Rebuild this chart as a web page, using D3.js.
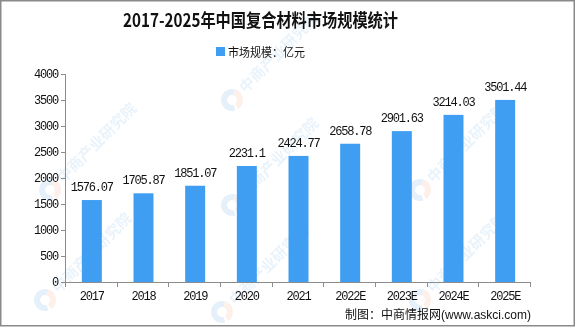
<!DOCTYPE html>
<html>
<head>
<meta charset="utf-8">
<script src="https://cdn.jsdelivr.net/npm/d3@7"></script>
<style>
  html, body { margin: 0; padding: 0; background: #fff; }
  svg { display: block; }
  text { font-family: "Liberation Mono", "DejaVu Sans Mono", monospace; }
  .num { letter-spacing: -1.2px; }
  .cjk { font-family: "Noto Sans CJK SC", sans-serif; }
</style>
</head>
<body>
<svg id="chart" width="576" height="329"></svg>
<script>
// Market size of China's composite materials, 100 million yuan
const years = ["2017", "2018", "2019", "2020", "2021", "2022E", "2023E", "2024E", "2025E"];
const marketSize = [1576.07, 1705.87, 1851.07, 2231.1, 2424.77, 2658.78, 2901.63, 3214.03, 3501.44];
const valueLabels = ["1576.07", "1705.87", "1851.07", "2231.1", "2424.77", "2658.78", "2901.63", "3214.03", "3501.44"];
const yTicks = [0, 500, 1000, 1500, 2000, 2500, 3000, 3500, 4000];

const svg = d3.select("#chart");
const W = 576, H = 329;
const margin = { left: 66, right: 45, top: 74, bottom: 47 };
const plotW = W - margin.left - margin.right;
const plotH = H - margin.top - margin.bottom;
const barColor = "#409ef2";
const axisColor = "#8c8c8c";

// faint background watermarks
const wm = svg.append("g").attr("opacity", 0.13);
const wmSpots = [[232, 100], [232, 205], [45, 300], [222, 312], [420, 300], [420, 190], [50, 190]];
wmSpots.forEach(([x, y]) => {
  const g = wm.append("g").attr("transform", `translate(${x},${y})`);
  g.append("path").attr("d", d3.arc()({ innerRadius: 5, outerRadius: 11, startAngle: Math.PI * 0.9, endAngle: Math.PI * 2.1 }))
    .attr("fill", "#3b8fd6");
  g.append("path").attr("d", d3.arc()({ innerRadius: 5, outerRadius: 11, startAngle: Math.PI * 0.1, endAngle: Math.PI * 0.8 }))
    .attr("fill", "#f08a5d");
  g.append("text").attr("class", "cjk")
    .attr("transform", "rotate(-45) translate(14,5)")
    .attr("font-size", 15).attr("font-weight", "bold")
    .attr("fill", "#5aa3e0")
    .text("中商产业研究院");
});

// outer frame
svg.append("rect").attr("x", 0.75).attr("y", 0.75).attr("width", W - 2.5).attr("height", 325)
  .attr("fill", "none").attr("stroke", "#8a8a8a").attr("stroke-width", 1.5);

// title
svg.append("text").attr("class", "cjk")
  .attr("x", 123).attr("y", 27)
  .attr("textLength", 275).attr("lengthAdjust", "spacingAndGlyphs")
  .attr("font-size", 18).attr("font-weight", "bold").attr("fill", "#111")
  .text("2017-2025年中国复合材料市场规模统计");

// legend
svg.append("rect").attr("x", 216).attr("y", 47).attr("width", 9).attr("height", 9).attr("fill", barColor);
svg.append("text").attr("class", "cjk")
  .attr("x", 228).attr("y", 56.5).attr("font-size", 12).attr("fill", "#111")
  .attr("textLength", 77).attr("lengthAdjust", "spacingAndGlyphs")
  .text("市场规模：亿元");

const x = d3.scaleBand().domain(years).range([0, plotW]).paddingInner(0.613).paddingOuter(0.3065);
const y = d3.scaleLinear().domain([0, 4000]).range([plotH, 0]);

const plot = svg.append("g").attr("transform", `translate(${margin.left},${margin.top})`);

// bars
plot.selectAll("rect.bar").data(years).join("rect").attr("class", "bar")
  .attr("x", d => x(d))
  .attr("width", x.bandwidth())
  .attr("y", (d, i) => y(marketSize[i]))
  .attr("height", (d, i) => plotH - y(marketSize[i]))
  .attr("fill", barColor);

// value labels
plot.selectAll("text.val").data(years).join("text").attr("class", "val num")
  .attr("x", d => x(d) + x.bandwidth() / 2)
  .attr("y", (d, i) => y(marketSize[i]) - 9)
  .attr("text-anchor", "middle").attr("font-size", 12).attr("fill", "#111")
  .text((d, i) => valueLabels[i]);

// y axis
const yAxis = plot.append("g").call(d3.axisLeft(y).tickValues(yTicks).tickSize(5).tickPadding(3).tickFormat(d3.format("d")));
yAxis.selectAll("path, line").attr("stroke", axisColor);
yAxis.select("path").attr("d", `M-0.5,0V${plotH}`);
yAxis.selectAll("text").attr("class", "num").attr("font-size", 12).attr("fill", "#111")
  .attr("font-family", "Liberation Mono, monospace");

// x axis with ticks on category boundaries
const xAxisG = plot.append("g").attr("transform", `translate(0,${plotH})`);
xAxisG.append("line").attr("x1", -5).attr("x2", plotW).attr("y1", 0.5).attr("y2", 0.5).attr("stroke", axisColor);
const step = plotW / years.length;
xAxisG.selectAll("line.tk").data(d3.range(years.length + 1)).join("line").attr("class", "tk")
  .attr("x1", i => Math.round(i * step) - 0.5).attr("x2", i => Math.round(i * step) - 0.5)
  .attr("y1", 0).attr("y2", 5).attr("stroke", axisColor);
xAxisG.selectAll("text").data(years).join("text").attr("class", "num")
  .attr("x", d => x(d) + x.bandwidth() / 2).attr("y", 18)
  .attr("text-anchor", "middle").attr("font-size", 12).attr("fill", "#111")
  .text(d => d);

// source note
const src = svg.append("text").attr("x", 531).attr("y", 319).attr("text-anchor", "end").attr("font-size", 12).attr("fill", "#111");
src.append("tspan").attr("class", "cjk").text("制图：中商情报网");
src.append("tspan").attr("font-family", "Liberation Sans, sans-serif").attr("font-size", 12).text("(www.askci.com)");
</script>
</body>
</html>
